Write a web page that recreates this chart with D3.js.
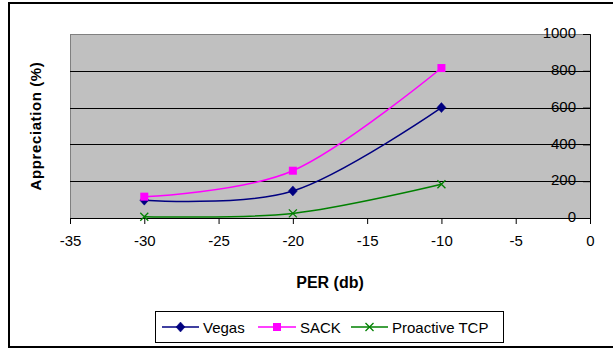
<!DOCTYPE html>
<html>
<head>
<meta charset="utf-8">
<script src="https://cdn.jsdelivr.net/npm/d3@7"></script>
<style>
  html, body { margin: 0; padding: 0; background: #fff; }
  svg { display: block; font-family: "Liberation Sans", Arial, sans-serif; }
  svg text { font-family: "Liberation Sans", Arial, sans-serif; }
</style>
</head>
<body>
<svg id="chart" width="613" height="349"></svg>
<script>
// ---- data ----
const xValues = [-30, -20, -10];
const vegas = [97, 147, 600];
const sack = [116, 257, 815];
const proactive = [7, 25, 183];
const seriesNames = ["Vegas", "SACK", "Proactive TCP"];
const xTicks = [-35, -30, -25, -20, -15, -10, -5, 0];
const yTicks = [0, 200, 400, 600, 800, 1000];
const xTitle = "PER (db)";
const yTitle = "Appreciation (%)";

const FONT = "'Liberation Sans', Arial, sans-serif";
const svg = d3.select("#chart");

// outer chart border (right edge lies beyond the picture)
svg.append("rect")
  .attr("x", 9).attr("y", 3).attr("width", 700).attr("height", 344)
  .attr("fill", "#fff").attr("stroke", "#000").attr("stroke-width", 2);

const pLeft = 70, pRight = 590, pTop = 34, pBottom = 218;
const x = d3.scaleLinear().domain([-35, 0]).range([pLeft, pRight]);
const y = d3.scaleLinear().domain([0, 1000]).range([pBottom, pTop]);

// plot area
svg.append("rect")
  .attr("x", pLeft).attr("y", pTop).attr("width", pRight - pLeft).attr("height", pBottom - pTop)
  .attr("fill", "#c0c0c0").attr("stroke", "#808080").attr("stroke-width", 1)
  .attr("shape-rendering", "crispEdges");

// gridlines
svg.append("g").selectAll("line")
  .data(yTicks.filter(v => v > 0 && v < 1000))
  .join("line")
  .attr("x1", pLeft).attr("x2", pRight)
  .attr("y1", d => Math.round(y(d)) + 0.5).attr("y2", d => Math.round(y(d)) + 0.5)
  .attr("stroke", "#000").attr("stroke-width", 1);

const fmt = d => String(d);

// x axis (at y = 0)
const xAxis = svg.append("g")
  .attr("transform", `translate(0,${y(0)})`)
  .call(d3.axisBottom(x).tickValues(xTicks).tickFormat(fmt).tickSizeOuter(0).tickSize(6).tickPadding(11));
xAxis.select(".domain").attr("stroke", "#000");
xAxis.selectAll("text").attr("font-size", 15).attr("fill", "#000").attr("font-family", FONT);

// y axis (at x = 0, right side)
const yAxis = svg.append("g")
  .attr("transform", `translate(${x(0)},0)`)
  .call(d3.axisLeft(y).tickValues(yTicks).tickFormat(fmt).tickSizeOuter(0).tickSize(7).tickPadding(7));
yAxis.select(".domain").attr("stroke", "#000");
yAxis.selectAll("text").attr("font-size", 15).attr("fill", "#000").attr("dy", "0.25em")
  .attr("font-family", FONT);

// axis titles
svg.append("text")
  .attr("x", (pLeft + pRight) / 2).attr("y", 288)
  .attr("text-anchor", "middle").attr("font-weight", "bold").attr("font-size", 16)
  .attr("font-family", FONT)
  .text(xTitle);
svg.append("text")
  .attr("transform", `translate(41,${(pTop + pBottom) / 2}) rotate(-90)`)
  .attr("text-anchor", "middle").attr("font-weight", "bold").attr("font-size", 15)
  .attr("letter-spacing", 0.6).attr("font-family", FONT)
  .text(yTitle);

// series
const series = [
  { name: seriesNames[0], values: vegas, color: "#000080", marker: "diamond" },
  { name: seriesNames[1], values: sack, color: "#ff00ff", marker: "square" },
  { name: seriesNames[2], values: proactive, color: "#008000", marker: "x" }
];

const line = d3.line()
  .x(d => x(d[0])).y(d => y(d[1]))
  .curve(d3.curveCardinal.tension(0));

function drawMarker(g, type, color, cx, cy) {
  if (type === "diamond") {
    g.append("path").attr("d", `M${cx},${cy - 5}L${cx + 4.5},${cy}L${cx},${cy + 5}L${cx - 4.5},${cy}Z`)
      .attr("fill", color).attr("stroke", color).attr("stroke-width", 0.5);
  } else if (type === "square") {
    g.append("rect").attr("x", cx - 4).attr("y", cy - 4).attr("width", 8).attr("height", 8)
      .attr("fill", color);
  } else {
    g.append("path").attr("d", `M${cx - 4},${cy - 4}L${cx + 4},${cy + 4}M${cx - 4},${cy + 4}L${cx + 4},${cy - 4}`)
      .attr("stroke", color).attr("stroke-width", 1.3).attr("fill", "none");
  }
}

series.forEach(s => {
  const pts = xValues.map((xv, i) => [xv, s.values[i]]);
  svg.append("path").datum(pts)
    .attr("d", line).attr("fill", "none").attr("stroke", s.color).attr("stroke-width", 1.5);
  const g = svg.append("g");
  pts.forEach(p => drawMarker(g, s.marker, s.color, x(p[0]), y(p[1])));
});

// legend
const legend = svg.append("g");
legend.append("rect")
  .attr("x", 155.5).attr("y", 311.5).attr("width", 348).attr("height", 31)
  .attr("fill", "#fff").attr("stroke", "#000").attr("stroke-width", 1);
const legendItems = [
  { x1: 162, x2: 199, tx: 203 },
  { x1: 258, x2: 296, tx: 300 },
  { x1: 351, x2: 388, tx: 392 }
];
series.forEach((s, i) => {
  const it = legendItems[i];
  const ly = 327;
  legend.append("line").attr("x1", it.x1).attr("x2", it.x2).attr("y1", ly).attr("y2", ly)
    .attr("stroke", s.color).attr("stroke-width", 1.5);
  drawMarker(legend, s.marker, s.color, (it.x1 + it.x2) / 2, ly);
  legend.append("text").attr("x", it.tx).attr("y", ly + 5.5)
    .attr("font-size", 15).attr("fill", "#000").attr("font-family", FONT).text(s.name);
});
</script>
</body>
</html>
